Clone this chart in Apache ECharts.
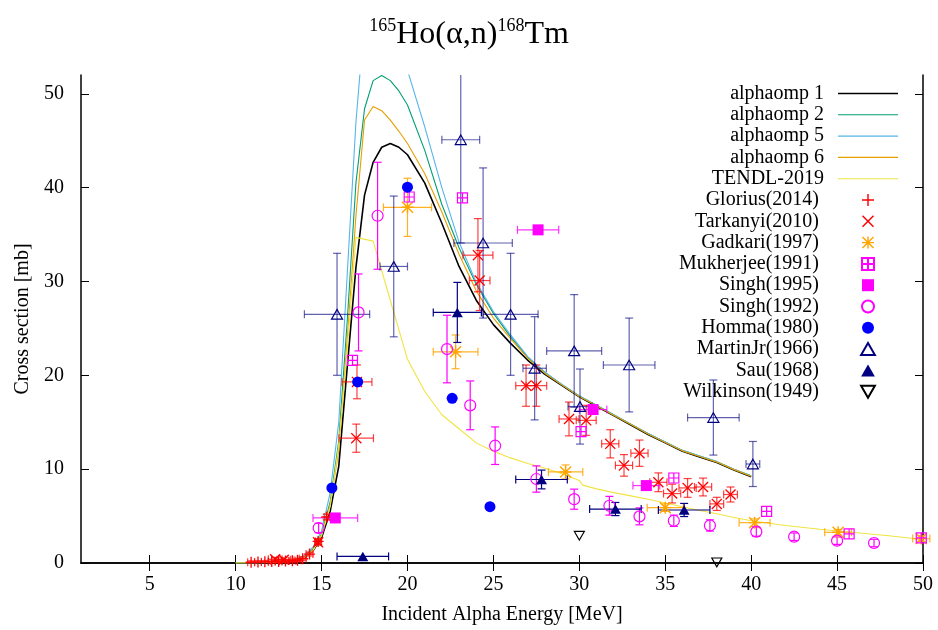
<!DOCTYPE html>
<html>
<head>
<meta charset="utf-8">
<script src="https://cdn.jsdelivr.net/npm/echarts@6/dist/echarts.min.js"></script>
<style>
  html, body { margin: 0; padding: 0; background: #fff; }
  #chart { width: 938px; height: 630px; }
</style>
</head>
<body>
<div id="chart"></div>
<script>
// axis ticks
const xTicks = [5, 10, 15, 20, 25, 30, 35, 40, 45, 50]
const yTicks = [0, 10, 20, 30, 40, 50]

// model curves (alphaomp 1/2/5/6 share one energy grid)
const ompE = [10, 11, 12, 13, 13.5, 14, 14.5, 15, 15.5, 16, 16.5, 17, 17.5, 18, 18.5, 19, 19.5, 20,
  21, 22, 23, 24, 25, 26, 27, 28, 29, 30, 31, 32, 33, 34, 35, 36, 37, 38, 39, 40]
const omp1 = [0, 0.02, 0.05, 0.15, 0.3, 0.6, 1.3, 2.7, 5.5, 10.3, 21, 31.5, 39.2, 42.7, 44.3, 44.7, 44.3, 43.5,
  40.5, 36.2, 31.6, 28.0, 25.4, 23.4, 21.6, 20.1, 18.9, 17.7, 16.7, 15.7, 14.7, 13.7, 12.8, 11.9, 11.3, 10.7, 9.9, 9.2]
const omp2 = [0, 0.02, 0.06, 0.18, 0.35, 0.7, 1.5, 3.1, 6.5, 13, 26, 40.5, 48.4, 51.4, 51.95, 51.4, 50.3, 48.8,
  44, 38.2, 33.6, 29.7, 26.6, 24.1, 21.9, 20.3, 19.0, 17.8, 16.8, 15.8, 14.8, 13.8, 12.9, 12.0, 11.4, 10.8, 10.0, 9.3]
const omp5 = [0, 0.02, 0.07, 0.2, 0.4, 0.8, 1.7, 3.4, 7.5, 15, 31, 47, 58, 62, 62.5, 60.5, 57, 52.5,
  46.5, 40, 34.2, 29.9, 26.8, 24.3, 22.0, 20.3, 19.0, 17.8, 16.8, 15.8, 14.8, 13.8, 12.9, 12.0, 11.4, 10.8, 10.0, 9.3]
const omp6 = [0, 0.02, 0.06, 0.17, 0.33, 0.65, 1.4, 3.0, 6.2, 12, 24, 37, 47.2, 48.65, 48.2, 47.2, 46.0, 44.7,
  41.5, 37.4, 32.9, 29.0, 26.1, 23.9, 21.8, 20.2, 18.95, 17.75, 16.75, 15.75, 14.75, 13.75, 12.85, 11.95, 11.35, 10.75, 9.95, 9.25]

const tendlE = [10, 11, 12, 13, 14, 14.5, 15, 15.5, 16, 16.5, 17, 18, 19, 20, 21, 22, 23, 24, 25, 26,
  27, 28, 29, 30, 30.2, 31, 32, 33, 34, 35, 36, 37, 38, 39, 40, 42, 44, 46, 48, 50]
const tendl = [0, 0.02, 0.06, 0.15, 0.6, 1.3, 2.9, 6, 12.5, 23, 34.7, 34.3, 28, 21.7, 18.3, 15.8, 14.3, 12.8, 11.9, 11.2,
  10.6, 10.1, 9.5, 8.8, 8.3, 7.9, 7.5, 7.15, 6.8, 6.4, 6.0, 5.6, 5.25, 4.85, 4.5, 4.0, 3.6, 3.25, 2.9, 2.5]

// measurements: [energy, cross section, dE, dSigma]
const glorius = [[10.9, 0.08, 0.2, 0.15], [11.3, 0.1, 0.2, 0.15], [11.7, 0.12, 0.2, 0.15], [12.1, 0.15, 0.2, 0.15],
  [12.5, 0.17, 0.2, 0.15], [12.9, 0.2, 0.2, 0.15], [13.3, 0.25, 0.2, 0.15], [13.6, 0.3, 0.2, 0.15],
  [13.9, 0.45, 0.2, 0.2], [14.3, 0.95, 0.2, 0.2], [14.8, 2.3, 0.15, 0.3], [15.3, 4.9, 0.15, 0.3]]
const tarkanyi = [[12.3, 0.4, 0.4, 0.2], [12.8, 0.35, 0.4, 0.2], [14.8, 2.2, 0.2, 0.3],
  [17.06, 19.3, 0.87, 1.8], [17.02, 13.3, 1.0, 1.5], [24.1, 32.8, 0.87, 3.9], [24.2, 30.1, 0.6, 3.2],
  [26.9, 18.9, 0.6, 2.2], [27.5, 18.9, 0.6, 2.2], [29.4, 15.35, 0.58, 1.8], [30.4, 15.2, 0.58, 1.6],
  [31.8, 12.7, 0.5, 1.5], [32.6, 10.4, 0.5, 1.15], [33.5, 11.7, 0.5, 1.4], [34.6, 8.6, 0.5, 1.0],
  [35.4, 7.4, 0.5, 1.0], [36.3, 8.0, 0.5, 1.0], [37.2, 8.1, 0.5, 0.95], [38.0, 6.3, 0.4, 0.7], [38.8, 7.3, 0.4, 0.8]]
const gadkari = [[20.0, 37.9, 1.4, 3.1], [22.8, 22.5, 1.3, 1.8], [29.2, 9.7, 1.0, 0.75], [35.0, 5.9, 1.05, 0.4],
  [40.2, 4.3, 0.9, 0.4], [45.06, 3.27, 0.78, 0.3], [49.9, 2.6, 0.5, 0.3]]
const mukherjee = [[16.8, 21.6], [20.1, 39.0], [23.2, 38.9], [30.1, 14.0], [35.5, 9.06], [40.9, 5.5], [45.7, 3.1], [49.9, 2.67]]
const singh1995 = [[15.8, 4.8, 1.3, 0], [27.6, 35.5, 1.2, 0], [30.8, 16.35, 0.8, 0], [33.9, 8.25, 0.78, 0]]
const singh1992 = [[14.83, 3.73, 0, 0.5], [17.15, 26.7, 0, 4.1], [18.26, 37.0, 0, 5.7], [22.3, 22.8, 0, 3.6],
  [23.65, 16.8, 0, 2.6], [25.1, 12.5, 0, 2.0], [27.5, 8.95, 0, 1.4], [29.7, 6.8, 0, 1.07], [31.75, 6.1, 0, 1.0],
  [33.5, 4.97, 0, 0.9], [35.5, 4.5, 0, 0.6], [37.6, 4.0, 0, 0.6], [40.3, 3.34, 0, 0.5], [42.5, 2.8, 0, 0.4],
  [45.0, 2.38, 0, 0.4], [47.15, 2.13, 0, 0.4]]
const homma = [[15.6, 8.0], [17.1, 19.3], [20.0, 40.05], [22.6, 17.55], [24.8, 6.0]]
const martinJr = [[15.9, 26.5, 1.9, 6.5], [19.2, 31.6, 0.8, 7.5], [23.1, 45.1, 1.1, 11], [24.4, 34.1, 1.7, 8],
  [26.0, 26.5, 1.6, 6.5], [27.4, 20.75, 0.68, 5.5], [29.7, 22.6, 1.6, 6], [30.04, 16.67, 0.7, 4],
  [32.9, 21.1, 1.5, 5], [37.8, 15.5, 1.5, 4], [40.1, 10.55, 0.4, 2.4]]
const sau = [[17.4, 0.7, 1.5, 0], [22.9, 26.7, 1.4, 3.2], [27.8, 8.9, 1.5, 1.0], [32.1, 5.75, 1.5, 0.7], [36.1, 5.65, 1.5, 0.7]]
const wilkinson = [[30.0, 2.9], [38.0, 0.07]]

const FONT = 'Liberation Serif'
const CAP = 4
const PLUS = 'path://M4.4,0H5.6V4.4H10V5.6H5.6V10H4.4V5.6H0V4.4H4.4Z'
const CROSS = 'path://M0,0.85L0.85,0L5,4.15L9.15,0L10,0.85L5.85,5L10,9.15L9.15,10L5,5.85L0.85,10L0,9.15L4.15,5Z'
const STAR = PLUS + ' M0,0.85L0.85,0L5,4.15L9.15,0L10,0.85L5.85,5L10,9.15L9.15,10L5,5.85L0.85,10L0,9.15L4.15,5Z'
const BOXPLUS = 'path://M0,0H10V10H0Z M5,0V10 M0,5H10'
const BOX = 'path://M0,0H10V10H0Z'
const TRI = 'path://M5,0L10,8.7L0,8.7Z'
const TRIDOWN = 'path://M0,0H10L5,8.7Z'

// error bars drawn through the axes' own coord()
function renderErr(params, api) {
  const e = api.value(0), s = api.value(1), de = api.value(2), ds = api.value(3)
  const cs = params.coordSys
  const top = cs.y, bot = cs.y + cs.height
  const c = api.coord([e, s])
  const style = { stroke: api.visual('color'), lineWidth: 1.2, fill: null }
  const kids = []
  const seg = (x1, y1, x2, y2) => kids.push({ type: 'line', shape: { x1, y1, x2, y2 }, style })
  if (de > 0) {
    const l = api.coord([e - de, s])[0], r = api.coord([e + de, s])[0]
    seg(l, c[1], r, c[1])
    seg(l, c[1] - CAP, l, c[1] + CAP)
    seg(r, c[1] - CAP, r, c[1] + CAP)
  }
  if (ds > 0) {
    const yl = api.coord([e, s - ds])[1], yh = api.coord([e, s + ds])[1]
    seg(c[0], Math.min(yl, bot), c[0], Math.max(yh, top))
    if (yl <= bot) seg(c[0] - CAP, yl, c[0] + CAP, yl)
    if (yh >= top) seg(c[0] - CAP, yh, c[0] + CAP, yh)
  }
  return { type: 'group', children: kids }
}

function lineSeries(name, xs, ys, color, width) {
  return {
    name, type: 'line', data: xs.map((x, i) => [x, ys[i]]),
    symbol: 'none', clip: true, z: 2,
    lineStyle: { color, width }, itemStyle: { color }
  }
}

const curves = [
  lineSeries('alphaomp 1', ompE, omp1, '#000000', 1.6),
  lineSeries('alphaomp 2', ompE, omp2, '#009e73', 1.1),
  lineSeries('alphaomp 5', ompE, omp5, '#56b4e9', 1.1),
  lineSeries('alphaomp 6', ompE, omp6, '#e69f00', 1.1),
  lineSeries('TENDL-2019', tendlE, tendl, '#f0e442', 1.1)
]

const points = [
  { name: 'Glorius(2014)', rows: glorius, symbol: PLUS, size: 11, fill: '#ff0000', err: 'rgba(255,0,0,0.75)' },
  { name: 'Tarkanyi(2010)', rows: tarkanyi, symbol: CROSS, size: 11, fill: '#ff0000', err: 'rgba(255,0,0,0.75)' },
  { name: 'Gadkari(1997)', rows: gadkari, symbol: STAR, size: 12, fill: '#ffa500', err: 'rgba(255,165,0,0.85)' },
  { name: 'Mukherjee(1991)', rows: mukherjee, symbol: BOXPLUS, size: 10, fill: 'transparent', border: '#ff00ff' },
  { name: 'Singh(1995)', rows: singh1995, symbol: BOX, size: 11, fill: '#ff00ff', err: 'rgba(255,0,255,0.8)' },
  { name: 'Singh(1992)', rows: singh1992, symbol: 'circle', size: 11, fill: 'transparent', border: '#ff00ff', err: '#ff00ff' },
  { name: 'Homma(1980)', rows: homma, symbol: 'circle', size: 11, fill: '#0000ff' },
  { name: 'MartinJr(1966)', rows: martinJr, symbol: TRI, size: 11, fill: 'transparent', border: '#000080', err: 'rgba(0,0,128,0.62)' },
  { name: 'Sau(1968)', rows: sau, symbol: TRI, size: 11, fill: '#000080', err: '#000080' },
  { name: 'Wilkinson(1949)', rows: wilkinson, symbol: TRIDOWN, size: 10, fill: 'transparent', border: '#000000' }
]

const errSeries = points.filter(p => p.err).map(p => ({
  type: 'custom', renderItem: renderErr, data: p.rows, silent: true, z: 3,
  encode: { x: 0, y: 1 }, itemStyle: { color: p.err }
}))

const markSeries = points.map(p => ({
  name: p.name, type: 'scatter', data: p.rows.map(r => [r[0], r[1]]),
  symbol: p.symbol, symbolSize: p.size, symbolKeepAspect: true, z: 4,
  itemStyle: { color: p.fill, borderColor: p.border || p.fill, borderWidth: p.border ? 1.2 : 0, opacity: 1 }
}))

const chart = echarts.init(document.getElementById('chart'))
chart.setOption({
  animation: false,
  backgroundColor: '#fff',
  textStyle: { fontFamily: FONT, color: '#000' },
  title: {
    text: '{s|165}{m|Ho(α,n)}{s|168}{m|Tm}',
    left: 'center', top: 17, padding: 0,
    textStyle: {
      fontWeight: 'normal',
      rich: {
        s: { fontFamily: FONT, fontSize: 18, fontWeight: 'normal', color: '#000', verticalAlign: 'top', lineHeight: 11 },
        m: { fontFamily: FONT, fontSize: 32, fontWeight: 'normal', color: '#000', lineHeight: 36 }
      }
    }
  },
  grid: { left: 81, right: 15, top: 75, bottom: 66 },
  legend: {
    orient: 'vertical', right: 40, top: 83, padding: 0, align: 'right',
    itemWidth: 60, itemHeight: 12, itemGap: 0.3, symbolKeepAspect: true,
    textStyle: { fontFamily: FONT, fontSize: 20, color: '#000', lineHeight: 21, padding: [0, 9, 0, 0] },
    data: curves.map(c => ({ name: c.name, icon: 'path://M0,0H60V' + c.lineStyle.width + 'H0Z' }))
      .concat(points.map(p => ({ name: p.name, textStyle: { padding: [0, 14, 0, 0] } })))
  },
  xAxis: [
    {
      type: 'value', min: 1, max: 50, position: 'bottom',
      name: 'Incident Alpha Energy [MeV]', nameLocation: 'middle', nameGap: 42,
      nameTextStyle: { fontFamily: FONT, fontSize: 20, color: '#000' },
      axisLine: { lineStyle: { color: '#000', width: 1.5 } },
      axisTick: { inside: true, length: 8, customValues: xTicks, lineStyle: { color: '#000' } },
      axisLabel: { customValues: xTicks, margin: 12, fontFamily: FONT, fontSize: 20, color: '#000' },
      splitLine: { show: false }
    },
    {
      type: 'value', min: 1, max: 50, position: 'top',
      axisLine: { lineStyle: { color: '#000', width: 1.5 } },
      axisTick: { inside: true, length: 8, customValues: xTicks, lineStyle: { color: '#000' } },
      axisLabel: { show: false }, splitLine: { show: false }
    }
  ],
  yAxis: [
    {
      type: 'value', min: 0, max: 52, position: 'left',
      name: 'Cross section [mb]', nameLocation: 'middle', nameGap: 48,
      nameTextStyle: { fontFamily: FONT, fontSize: 20, color: '#000' },
      axisLine: { show: true, lineStyle: { color: '#000', width: 1.5 } },
      axisTick: { show: true, inside: true, length: 8, customValues: yTicks, lineStyle: { color: '#000' } },
      axisLabel: { customValues: yTicks, margin: 17, fontFamily: FONT, fontSize: 20, color: '#000' },
      splitLine: { show: false }
    },
    {
      type: 'value', min: 0, max: 52, position: 'right',
      axisLine: { show: true, lineStyle: { color: '#000', width: 1.5 } },
      axisTick: { show: true, inside: true, length: 8, customValues: yTicks, lineStyle: { color: '#000' } },
      axisLabel: { show: false }, splitLine: { show: false }
    }
  ],
  series: curves.concat(errSeries, markSeries)
})
</script>
</body>
</html>
